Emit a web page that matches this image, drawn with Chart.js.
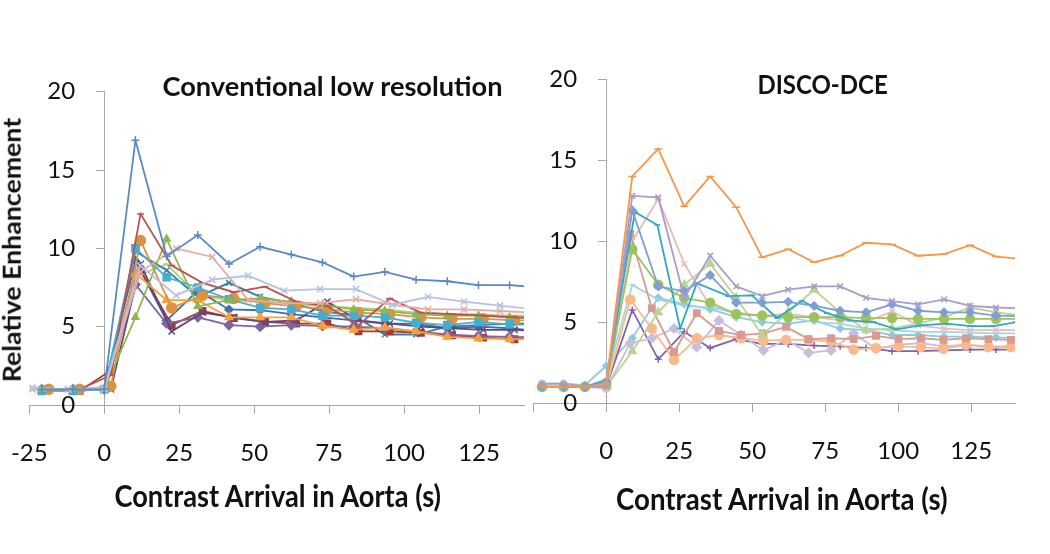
<!DOCTYPE html>
<html>
<head>
<meta charset="utf-8">
<script src="https://cdn.jsdelivr.net/npm/chart.js@4.4.1/dist/chart.umd.min.js"></script>
<style>
  html, body { margin:0; padding:0; background:#fff; }
  #wrap { position:relative; width:1050px; height:554px; overflow:hidden; background:#fff; }
  canvas { position:absolute; top:0; }
  .t { position:absolute; white-space:nowrap; font-family:Lato, "Open Sans", sans-serif; font-weight:700;
       line-height:1; color:#111; transform-origin:50% 50%; }
</style>
</head>
<body>
<div id="wrap">
  <canvas id="c1" width="540" height="554" style="left:0px"></canvas>
  <canvas id="c2" width="530" height="554" style="left:520px"></canvas>
  <div class="t" id="title1" style="font-size:26px">Conventional low resolution</div>
  <div class="t" id="title2" style="font-size:26px">DISCO-DCE</div>
  <div class="t" id="ytitle" style="font-size:24px">Relative Enhancement</div>
  <div class="t" id="xtitle1" style="font-size:30px">Contrast Arrival in Aorta (s)</div>
  <div class="t" id="xtitle2" style="font-size:30px">Contrast Arrival in Aorta (s)</div>
</div>
<script>
// ---------- tick labels ----------
const xTickValues = [-25, 0, 25, 50, 75, 100, 125];
const xTickLabelsConv = ['-25', '0', '25', '50', '75', '100', '125'];
const xTickLabelsDisco = ['', '0', '25', '50', '75', '100', '125'];
const yTickValues = [0, 5, 10, 15, 20];
const yTickLabels = ['0', '5', '10', '15', '20'];

// ---------- Conventional low resolution: time bases (s) ----------
const convTimes     = [-20.8, -10.4, 0, 10.4, 20.8, 31.2, 41.6, 52, 62.4, 72.8, 83.2, 93.6, 104, 114.4, 124.8, 135.2, 145.6];
const convTimesLate = [-18.5, -8.2, 2.2, 12.1, 22.5, 32.8, 43.2, 53.6, 64, 74.4, 84.8, 95.2, 105.6, 116, 126.4, 136.8, 147.2];
const convTimesSlow = [-24, -12, 0, 12, 24, 36, 48, 60, 72, 84, 96, 108, 120, 132, 144];

// ---------- Conventional low resolution: series values ----------
const convBluePlus    = [1.0, 1.0, 1.0, 16.9, 9.5, 10.85, 9.0, 10.1, 9.6, 9.1, 8.2, 8.5, 8.0, 7.9, 7.65, 7.65, 7.5];
const convLavenderX   = [1.1, 1.0, 1.1, 8.9, 7.0, 8.0, 8.25, 7.3, 7.4, 7.4, 6.4, 6.9, 6.6, 6.35, 6.1];
const convPinkX       = [1.0, 1.0, 1.0, 8.5, 10.0, 9.45, 6.7, 6.5, 6.5, 6.75, 6.4, 6.1, 6.1, 6.0, 5.9];
const convRedDash     = [1.0, 1.0, 1.9, 12.2, 8.9, 7.8, 7.2, 7.55, 6.6, 6.3, 5.1, 6.8, 5.9, 5.8, 5.7, 5.6, 5.5];
const convGreenTri    = [1.0, 1.0, 1.0, 5.6, 10.6, 6.3, 6.7, 6.8, 6.6, 6.4, 6.1, 6.0, 5.8, 5.7, 5.7, 5.6, 5.6];
const convCyanSquare  = [0.9, 0.9, 1.0, 10.0, 8.15, 7.5, 6.75, 6.2, 6.1, 5.7, 5.7, 5.6, 5.25, 5.1, 5.3, 5.15, 5.1];
const convOrangeCirc  = [1.0, 1.0, 1.2, 10.5, 6.2, 7.0, 6.8, 6.5, 6.3, 6.1, 5.9, 5.8, 5.6, 5.5, 5.5, 5.4, 5.4];
const convOrangeTri   = [0.9, 0.9, 1.0, 8.4, 6.7, 6.7, 5.6, 5.6, 5.6, 5.05, 4.8, 4.95, 4.7, 4.35, 4.25, 4.2, 4.2];
const convPurpleX     = [1.0, 1.0, 1.0, 9.0, 4.7, 5.9, 5.6, 5.3, 5.4, 6.6, 5.4, 5.2, 5.0, 4.9, 4.8, 4.8, 4.7];
const convPurpleDia   = [1.0, 1.0, 1.0, 7.7, 5.2, 5.6, 5.1, 5.0, 5.1, 5.05, 5.0, 4.9, 4.7, 4.5, 4.4, 4.35, 4.3];
const convDarkRedSq   = [1.0, 0.9, 2.2, 8.6, 5.1, 6.0, 5.55, 5.3, 5.2, 5.2, 4.7, 4.7, 4.6, 4.45, 4.3, 4.2, 4.2];
const convBlueDia     = [1.0, 1.0, 1.0, 9.2, 5.4, 7.3, 6.1, 6.05, 5.8, 5.6, 5.4, 5.2, 5.2, 4.9, 5.0, 4.9, 4.7];
const convTealX       = [1.0, 1.0, 1.0, 9.8, 8.6, 6.9, 7.8, 6.9, 6.5, 6.0, 5.7, 4.5, 4.5, 5.0, 5.1, 5.2, 5.2];
const convLightGreen  = [1.0, 1.0, 1.0, 8.2, 9.0, 7.0, 6.7, 6.6, 6.5, 6.3, 6.2, 6.1, 5.9, 5.8, 5.8, 5.7, 5.7];

// ---------- DISCO-DCE: time bases (s) ----------
const discoTimes     = [-22, -14.6, -7.3, 0, 8.9, 17.8, 26.7, 35.6, 44.5, 53.4, 62.3, 71.2, 80.1, 89, 97.9, 106.8, 115.7, 124.6, 133.5, 142.4];
const discoTimesFast = [-22, -14.6, -7.3, 0, 8.2, 15.6, 23.2, 31.0, 38.6, 46.2, 53.8, 61.6, 69.3, 77.0, 84.7, 92.4, 100.1, 107.8, 115.5, 123.2, 130.9, 138.6, 146.3];
const discoTimesTeal = [-22, -14.6, -7.3, 0, 9.8, 17.5, 25.3, 31.0, 41.9, 49.9, 58.5, 67.0, 75.6, 83.6, 91.5, 99.5, 107.5, 116.7, 124.7, 132.6, 140.5];

// ---------- DISCO-DCE: series values ----------
const discoOrangeDash  = [1.0, 1.0, 1.0, 1.2, 14.0, 15.7, 12.15, 14.0, 12.1, 9.0, 9.5, 8.7, 9.1, 9.9, 9.8, 9.1, 9.2, 9.75, 9.05, 8.9];
const discoLavenderX   = [1.2, 1.2, 1.0, 1.0, 12.8, 12.7, 6.5, 9.1, 7.2, 6.6, 7.0, 7.2, 7.2, 6.5, 6.3, 6.1, 6.4, 6.0, 5.9, 5.85];
const discoBlueDia     = [1.0, 1.0, 1.0, 1.3, 11.9, 7.2, 6.9, 7.9, 6.2, 6.2, 6.25, 6.0, 5.7, 5.6, 6.1, 5.7, 5.6, 5.6, 5.4, 5.35];
const discoTeal        = [1.0, 1.0, 1.0, 1.4, 11.8, 11.0, 4.6, 7.4, 6.6, 6.65, 5.25, 6.3, 5.55, 5.1, 5.0, 4.55, 4.8, 4.9, 4.75, 4.75, 5.0];
const discoGreenCirc   = [1.0, 1.0, 1.0, 1.2, 9.5, 7.3, 6.5, 6.2, 5.5, 5.4, 5.3, 5.3, 5.3, 5.25, 5.25, 5.2, 5.2, 5.2, 5.2, 5.2];
const discoLtGreenTri  = [1.0, 1.0, 1.0, 1.0, 3.2, 5.6, 7.3, 8.6, 6.5, 4.2, 5.6, 7.0, 5.6, 4.5, 4.6, 4.9, 5.3, 5.9, 5.6, 5.4];
const discoSalmonSq    = [1.0, 1.0, 1.0, 1.1, 10.45, 5.85, 3.15, 5.55, 4.45, 4.2, 4.3, 4.7, 3.95, 4.0, 3.95, 4.15, 3.95, 4.0, 3.9, 4.0, 3.95, 3.9, 3.9];
const discoPeachCirc   = [1.0, 1.0, 1.0, 1.0, 6.4, 4.6, 2.65, 4.0, 4.2, 4.0, 3.85, 3.9, 3.9, 3.8, 3.3, 3.4, 3.5, 3.45, 3.35, 3.6, 3.45, 3.45, 3.4];
const discoLtLavDia    = [1.0, 1.0, 1.0, 0.9, 3.7, 4.0, 4.6, 3.45, 5.1, 4.2, 3.25, 3.9, 3.1, 3.25, 4.3, 3.35, 3.6, 3.7, 3.5, 3.6, 3.5, 3.5, 3.5];
const discoPurplePlus  = [1.0, 1.0, 1.0, 1.0, 5.75, 2.7, 4.4, 3.4, 3.95, 3.65, 3.65, 3.55, 3.5, 3.4, 3.2, 3.2, 3.25, 3.3, 3.3, 3.3];
const discoLtCyan      = [1.1, 1.1, 1.0, 1.5, 7.3, 6.4, 6.0, 5.9, 5.6, 5.4, 5.3, 5.0, 4.9, 4.6, 4.5, 4.4, 4.4, 4.35, 4.3, 4.3];
const discoLtTeal      = [1.2, 1.2, 1.1, 2.3, 4.0, 6.5, 6.1, 5.8, 5.3, 5.0, 4.9, 5.1, 4.6, 4.5, 4.2, 4.2, 4.1, 4.1, 4.05, 4.0];
const discoPinkX       = [1.0, 1.0, 1.0, 1.0, 10.0, 12.6, 8.6, 6.0, 5.5, 5.4, 5.5, 5.3, 5.1, 5.0, 5.65, 4.8, 4.6, 4.5, 4.5, 4.5];

// ---------- helpers ----------
Chart.defaults.font.family = 'Lato, "Open Sans", sans-serif';
const FAMILY = 'Lato, "Open Sans", sans-serif';
const tickColor = '#111';
const axisColor = '#a6a6a6';

function series(label, times, vals, color, style, r) {
  return {
    label, data: times.map((t, i) => ({ x: t, y: vals[i] })),
    borderColor: color, backgroundColor: color,
    pointBackgroundColor: color, pointBorderColor: color,
    pointStyle: style, pointRadius: r, pointBorderWidth: 1.5,
    borderWidth: 1.8, tension: 0, fill: false
  };
}

function makeOptions(cfg) {
  return {
    responsive: false, animation: false, devicePixelRatio: 1,
    layout: { padding: cfg.padding },
    plugins: { legend: { display: false }, tooltip: { enabled: false }, title: { display: false } },
    scales: {
      x: {
        type: 'linear', min: -25, max: 140,
        afterBuildTicks: s => { s.ticks = xTickValues.map(v => ({ value: v })); },
        afterFit: s => { s.height = cfg.xHeight; },
        grid: { display: true, drawOnChartArea: false, drawTicks: true, tickLength: 9, color: axisColor, lineWidth: 1 },
        border: { display: true, color: axisColor, width: 1 },
        // a tall line box pushes the labels down below the axis without adding side padding
        ticks: { font: { family: FAMILY, size: 24, lineHeight: cfg.xLabelLine + 'px' }, color: tickColor,
                 padding: 0, maxRotation: 0, autoSkip: false,
                 callback: (v, i) => cfg.xLabels[i] }
      },
      y: {
        type: 'linear', position: { x: 0 }, min: 0, max: 20,
        afterBuildTicks: s => { s.ticks = yTickValues.map(v => ({ value: v })); },
        grid: { display: true, drawOnChartArea: false, drawTicks: true, tickLength: 8, color: axisColor, lineWidth: 1 },
        border: { display: true, color: axisColor, width: 1 },
        ticks: { display: false }
      },
      yLab: {
        type: 'linear', position: { x: cfg.labelX }, min: 0, max: 20,
        afterBuildTicks: s => { s.ticks = yTickValues.map(v => ({ value: v })); },
        grid: { display: false }, border: { display: false },
        ticks: { font: { family: FAMILY, size: 24 }, color: tickColor, padding: 0,
                 callback: (v, i) => yTickLabels[i] }
      }
    }
  };
}

// ---------- left chart ----------
new Chart(document.getElementById('c1'), {
  type: 'line',
  data: { datasets: [
    series('S1',  convTimes,     convBluePlus,   '#5A8AC6', 'cross', 4),
    series('S2',  convTimesSlow, convLavenderX,  '#B4C3E3', 'crossRot', 4.5),
    series('S3',  convTimesSlow, convPinkX,      '#E8A9A8', 'crossRot', 4.5),
    series('S4',  convTimesLate, convRedDash,    '#C0504D', 'line', 3.5),
    series('S5',  convTimes,     convGreenTri,   '#8DB64C', 'triangle', 4),
    series('S6',  convTimes,     convCyanSquare, '#45AED0', 'rect', 5),
    series('S7',  convTimesLate, convOrangeCirc, '#E0913F', 'circle', 5),
    series('S8',  convTimes,     convOrangeTri,  '#F8A13D', 'triangle', 4.5),
    series('S9',  convTimesLate, convPurpleX,    '#5F497A', 'crossRot', 4.5),
    series('S10', convTimes,     convPurpleDia,  '#8064A2', 'rectRot', 4.5),
    series('S11', convTimesLate, convDarkRedSq,  '#A33B38', 'rect', 4.5),
    series('S12', convTimes,     convBlueDia,    '#3F6DB0', 'rectRot', 4),
    series('S13', convTimes,     convTealX,      '#31859C', 'crossRot', 4),
    series('S14', convTimes,     convLightGreen, '#B2CC7E', 'line', 3)
  ] },
  options: makeOptions({ padding: { left: 29.3, right: 16, top: 91.7, bottom: 0 }, xHeight: 149,
                         xLabels: xTickLabelsConv, labelX: -9.7, xLabelLine: 78 })
});

// ---------- right chart ----------
new Chart(document.getElementById('c2'), {
  type: 'line',
  data: { datasets: [
    series('D1',  discoTimes,     discoOrangeDash, '#F79646', 'line', 4),
    series('D2',  discoTimes,     discoLavenderX,  '#A99BCB', 'crossRot', 4),
    series('D3',  discoTimes,     discoBlueDia,    '#7F9ED6', 'rectRot', 4),
    series('D4',  discoTimesTeal, discoTeal,       '#2FA8C6', 'line', 3),
    series('D5',  discoTimes,     discoGreenCirc,  '#9BC45A', 'circle', 4.5),
    series('D6',  discoTimes,     discoLtGreenTri, '#B9D396', 'triangle', 4.5),
    series('D7',  discoTimesFast, discoSalmonSq,   '#D99A92', 'rect', 4.5),
    series('D8',  discoTimesFast, discoPeachCirc,  '#FAB98A', 'circle', 4.5),
    series('D9',  discoTimesFast, discoLtLavDia,   '#C8BEDD', 'rectRot', 4.5),
    series('D10', discoTimes,     discoPurplePlus, '#7C63AD', 'cross', 3.5),
    series('D11', discoTimes,     discoLtCyan,     '#A5D5E2', 'line', 3),
    series('D12', discoTimes,     discoLtTeal,     '#8CCBDD', 'rectRot', 3.5),
    series('D13', discoTimes,     discoPinkX,      '#EDB9B9', 'crossRot', 4)
  ] },
  options: makeOptions({ padding: { left: 13.3, right: 35, top: 79.3, bottom: 0 }, xHeight: 151,
                         xLabels: xTickLabelsDisco, labelX: -10, xLabelLine: 78 })
});

// ---------- HTML titles, fitted to the reference boxes ----------
function place(id, cx, cy, w, rotate) {
  const el = document.getElementById(id);
  const mw = el.offsetWidth, mh = el.offsetHeight;
  el.style.left = (cx - mw / 2) + 'px';
  el.style.top = (cy - mh / 2) + 'px';
  el.style.transform = (rotate ? 'rotate(-90deg) ' : '') + 'scaleX(' + (w / mw) + ')';
}
place('title1', 332, 85.5, 340, false);
place('title2', 822, 84, 130, false);
place('ytitle', 12, 249.5, 265, true);
place('xtitle1', 277.5, 495, 327, false);
place('xtitle2', 782, 498, 332, false);
</script>
</body>
</html>
